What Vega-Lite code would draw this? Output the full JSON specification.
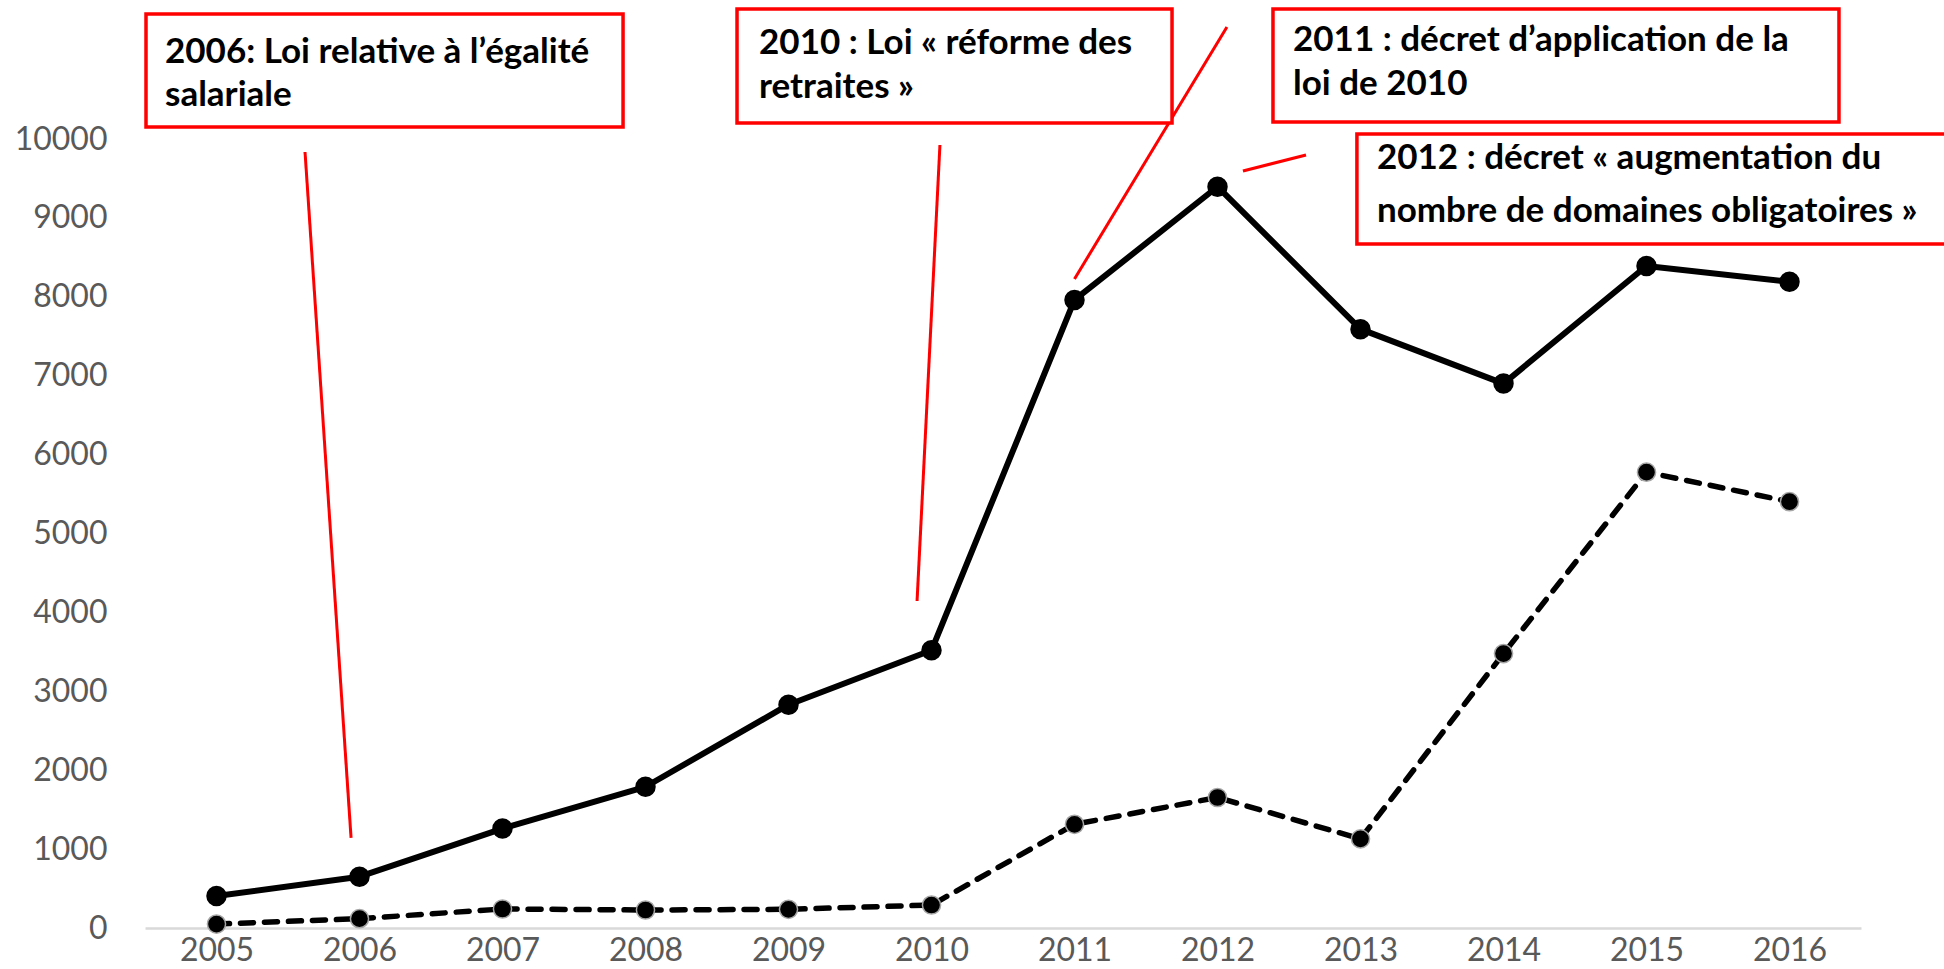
{
  "$schema": "https://vega.github.io/schema/vega-lite/v6.json",
  "width": 1716,
  "height": 789,
  "autosize": {"type": "none"},
  "padding": {"left": 145, "top": 139, "right": 83, "bottom": 41},
  "background": "white",
  "config": {"view": {"stroke": null}, "font": "Lato"},
  "datasets": {
    "series": [
      {"x": 2005, "y": 405, "series": "total"},
      {"x": 2006, "y": 650, "series": "total"},
      {"x": 2007, "y": 1260, "series": "total"},
      {"x": 2008, "y": 1790, "series": "total"},
      {"x": 2009, "y": 2830, "series": "total"},
      {"x": 2010, "y": 3520, "series": "total"},
      {"x": 2011, "y": 7960, "series": "total"},
      {"x": 2012, "y": 9395, "series": "total"},
      {"x": 2013, "y": 7590, "series": "total"},
      {"x": 2014, "y": 6900, "series": "total"},
      {"x": 2015, "y": 8390, "series": "total"},
      {"x": 2016, "y": 8190, "series": "total"},
      {"x": 2005, "y": 50, "series": "part"},
      {"x": 2006, "y": 118, "series": "part"},
      {"x": 2007, "y": 241, "series": "part"},
      {"x": 2008, "y": 228, "series": "part"},
      {"x": 2009, "y": 237, "series": "part"},
      {"x": 2010, "y": 291, "series": "part"},
      {"x": 2011, "y": 1314, "series": "part"},
      {"x": 2012, "y": 1654, "series": "part"},
      {"x": 2013, "y": 1130, "series": "part"},
      {"x": 2014, "y": 3478, "series": "part"},
      {"x": 2015, "y": 5777, "series": "part"},
      {"x": 2016, "y": 5403, "series": "part"}
    ],
    "grid": [
      {"x": 2004.5}, {"x": 2005.5}, {"x": 2006.5}, {"x": 2007.5}, {"x": 2008.5},
      {"x": 2009.5}, {"x": 2010.5}, {"x": 2011.5}, {"x": 2012.5}, {"x": 2013.5},
      {"x": 2014.5}, {"x": 2015.5}, {"x": 2016.5}
    ],
    "boxes": [
      {"x": 2004.507, "x2": 2007.843, "y": 11584, "y2": 10152},
      {"x": 2008.640, "x2": 2011.682, "y": 11648, "y2": 10203},
      {"x": 2012.388, "x2": 2016.346, "y": 11648, "y2": 10215},
      {"x": 2012.975, "x2": 2017.3, "y": 10063, "y2": 8669}
    ],
    "leaders": [
      {"x": 2005.619, "y": 9835, "x2": 2005.941, "y2": 1141},
      {"x": 2010.059, "y": 9924, "x2": 2009.899, "y2": 4144},
      {"x": 2012.066, "y": 11420, "x2": 2011.0, "y2": 8226},
      {"x": 2012.178, "y": 9594, "x2": 2012.619, "y2": 9797}
    ],
    "labels": [
      {"x": 2004.64, "y": 11103, "text": "2006: Loi relative à l’égalité"},
      {"x": 2004.64, "y": 10558, "text": "salariale"},
      {"x": 2008.794, "y": 11217, "text": "2010 : Loi « réforme des"},
      {"x": 2008.794, "y": 10659, "text": "retraites »"},
      {"x": 2012.528, "y": 11255, "text": "2011 : décret d’application de la"},
      {"x": 2012.528, "y": 10697, "text": "loi de 2010"},
      {"x": 2013.115, "y": 9759, "text": "2012 : décret « augmentation du"},
      {"x": 2013.115, "y": 9087, "text": "nombre de domaines obligatoires »"}
    ]
  },
  "encoding": {
    "x": {
      "field": "x", "type": "quantitative",
      "scale": {"domain": [2004.5, 2016.5], "nice": false, "zero": false},
      "axis": {
        "title": null, "values": [2005, 2006, 2007, 2008, 2009, 2010, 2011, 2012, 2013, 2014, 2015, 2016],
        "format": "d", "grid": false, "ticks": false,
        "domain": true, "domainColor": "#d9d9d9", "domainWidth": 2.5,
        "labelFont": "Lato", "labelFontSize": 32, "labelColor": "#595959",
        "labelPadding": 7, "labelFlush": false, "labelOverlap": false
      }
    },
    "y": {
      "field": "y", "type": "quantitative",
      "scale": {"domain": [0, 10000], "nice": false},
      "axis": {
        "title": null, "values": [0, 1000, 2000, 3000, 4000, 5000, 6000, 7000, 8000, 9000, 10000],
        "format": "d", "grid": false, "ticks": false, "domain": false,
        "labelFont": "Lato", "labelFontSize": 32, "labelColor": "#595959",
        "labelPadding": 38, "labelOverlap": false
      }
    }
  },
  "layer": [
    {
      "data": {"name": "grid"},
      "mark": {"type": "rule", "color": "#d9d9d9", "strokeWidth": 1.5},
      "encoding": {"y": {"datum": 0}, "y2": {"datum": 10000}}
    },
    {
      "data": {"name": "series"},
      "transform": [{"filter": "datum.series === 'part'"}],
      "mark": {"type": "line", "color": "black", "strokeWidth": 5.5, "strokeDash": [13, 11], "strokeCap": "round", "strokeJoin": "round"},
      "encoding": {}
    },
    {
      "data": {"name": "series"},
      "transform": [{"filter": "datum.series === 'total'"}],
      "mark": {"type": "line", "color": "black", "strokeWidth": 6, "strokeJoin": "round"},
      "encoding": {}
    },
    {
      "data": {"name": "series"},
      "transform": [{"filter": "datum.series === 'part'"}],
      "mark": {"type": "point", "shape": "circle", "filled": true, "fill": "black", "stroke": "#a6a6a6", "strokeWidth": 1.5, "size": 330, "opacity": 1},
      "encoding": {}
    },
    {
      "data": {"name": "series"},
      "transform": [{"filter": "datum.series === 'total'"}],
      "mark": {"type": "point", "shape": "circle", "filled": true, "fill": "black", "size": 420, "opacity": 1},
      "encoding": {}
    },
    {
      "data": {"name": "leaders"},
      "mark": {"type": "rule", "color": "#ff0000", "strokeWidth": 3},
      "encoding": {"x2": {"field": "x2"}, "y2": {"field": "y2"}}
    },
    {
      "data": {"name": "boxes"},
      "mark": {"type": "rect", "fill": "white", "stroke": "#ff0000", "strokeWidth": 3.5},
      "encoding": {"x2": {"field": "x2"}, "y2": {"field": "y2"}}
    },
    {
      "data": {"name": "labels"},
      "mark": {"type": "text", "align": "left", "baseline": "middle", "font": "Lato", "fontWeight": "bold", "fontSize": 35, "color": "black"},
      "encoding": {"text": {"field": "text"}}
    }
  ]
}
